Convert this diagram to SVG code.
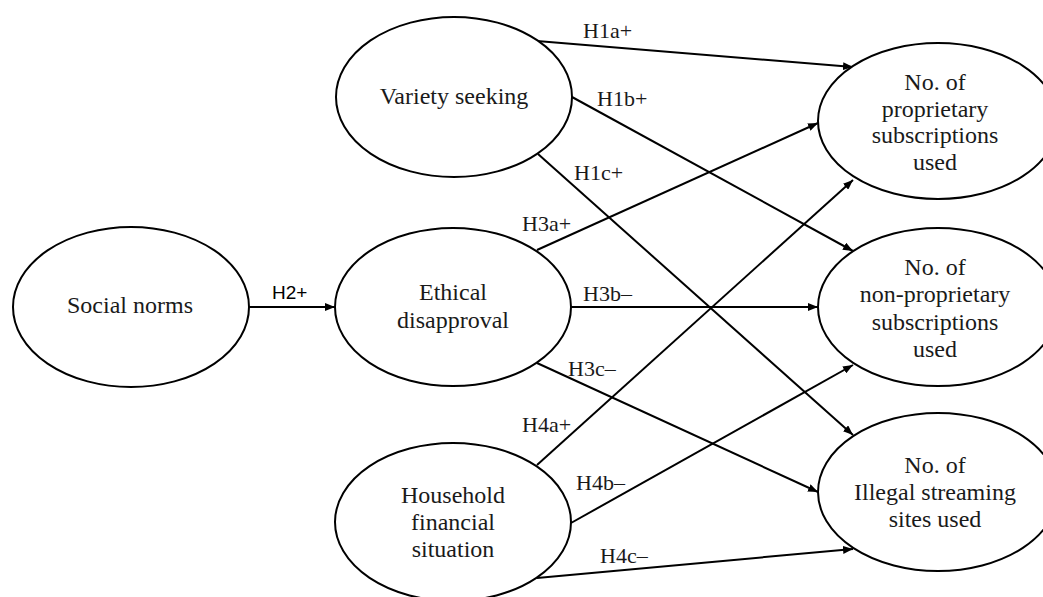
<svg xmlns="http://www.w3.org/2000/svg" width="1043" height="597" viewBox="0 0 1043 597">
<style>
.node{fill:#fff;stroke:#000;stroke-width:2}
.nt{font-family:"Liberation Serif","Times New Roman",serif;font-size:24px;fill:#1a1a1a;text-anchor:middle}
.lb{font-family:"Liberation Serif","Times New Roman",serif;font-size:22px;fill:#1a1a1a}
.lbs{font-family:"Liberation Sans",Arial,sans-serif;font-size:19px;fill:#000}
.edge{stroke:#000;stroke-width:2;fill:none;marker-end:url(#ah)}
</style>
<defs>
<marker id="ah" viewBox="0 0 10 8" refX="10" refY="4" markerWidth="10" markerHeight="8" markerUnits="userSpaceOnUse" orient="auto">
<path d="M0,0 L10,4 L0,8 z" fill="#000"/>
</marker>
</defs>
<rect width="1043" height="597" fill="#fff"/>
<g id="connectors">
<line class="edge" x1="248" y1="307" x2="335" y2="307"/>
<line class="edge" x1="537" y1="41" x2="853" y2="67"/>
<line class="edge" x1="572" y1="97" x2="853" y2="251"/>
<line class="edge" x1="538" y1="154" x2="853" y2="435"/>
<line class="edge" x1="537" y1="250" x2="818" y2="123"/>
<line class="edge" x1="570" y1="307" x2="818" y2="307"/>
<line class="edge" x1="537" y1="363" x2="818" y2="492"/>
<line class="edge" x1="537" y1="465" x2="853" y2="180"/>
<line class="edge" x1="571" y1="523" x2="853" y2="365"/>
<line class="edge" x1="537" y1="578" x2="853" y2="549"/>
</g>
<g id="edge-labels">
<text class="lbs" x="272" y="299">H2+</text>
<text class="lb" x="583" y="38">H1a+</text>
<text class="lb" x="597" y="106">H1b+</text>
<text class="lb" x="574" y="180">H1c+</text>
<text class="lb" x="522" y="231">H3a+</text>
<text class="lb" x="583" y="301">H3b–</text>
<text class="lb" x="568" y="376">H3c–</text>
<text class="lb" x="522" y="432">H4a+</text>
<text class="lb" x="576" y="490">H4b–</text>
<text class="lb" x="600" y="563">H4c–</text>
</g>
<g id="social-norms">
<ellipse class="node" cx="131" cy="307" rx="118" ry="80"/>
<text class="nt" x="130" y="313">Social norms</text>
</g>
<g id="variety-seeking">
<ellipse class="node" cx="454" cy="97" rx="118" ry="80"/>
<text class="nt" x="454" y="104">Variety seeking</text>
</g>
<g id="ethical-disapproval">
<ellipse class="node" cx="453" cy="307" rx="118" ry="79"/>
<text class="nt" x="453" y="300">Ethical</text>
<text class="nt" x="453" y="328">disapproval</text>
</g>
<g id="household-financial-situation">
<ellipse class="node" cx="453" cy="522" rx="118" ry="79"/>
<text class="nt" x="453" y="503">Household</text>
<text class="nt" x="453" y="530">financial</text>
<text class="nt" x="453" y="557">situation</text>
</g>
<g id="proprietary">
<ellipse class="node" cx="938" cy="121" rx="120" ry="78"/>
<text class="nt" x="935" y="90">No. of</text>
<text class="nt" x="935" y="117">proprietary</text>
<text class="nt" x="935" y="143">subscriptions</text>
<text class="nt" x="935" y="170">used</text>
</g>
<g id="non-proprietary">
<ellipse class="node" cx="938" cy="307" rx="120" ry="79"/>
<text class="nt" x="935" y="275">No. of</text>
<text class="nt" x="935" y="302">non-proprietary</text>
<text class="nt" x="935" y="330">subscriptions</text>
<text class="nt" x="935" y="357">used</text>
</g>
<g id="illegal-streaming">
<ellipse class="node" cx="938" cy="492" rx="120" ry="79"/>
<text class="nt" x="935" y="473">No. of</text>
<text class="nt" x="935" y="500">Illegal streaming</text>
<text class="nt" x="935" y="527">sites used</text>
</g>
</svg>
